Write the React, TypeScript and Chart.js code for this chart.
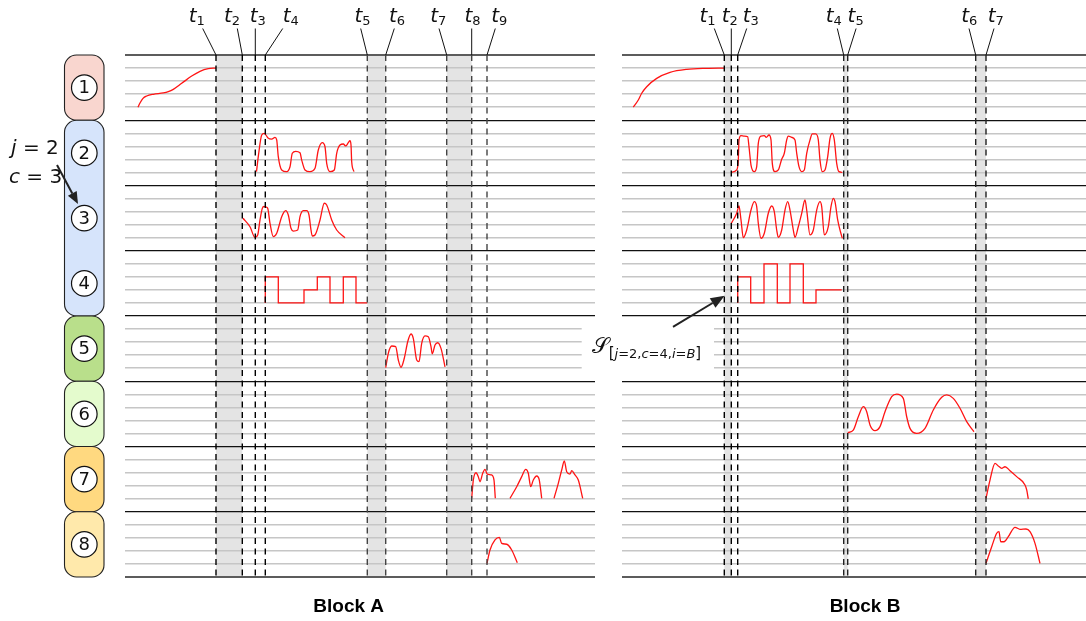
import React, { useEffect, useRef } from "react";
import { Chart, registerables } from "chart.js";

Chart.register(...registerables);

// ---------------- data ----------------
const LANE_NUMBERS = [1, 2, 3, 4, 5, 6, 7, 8];
const LANE_GROUPS = [[1, 1], [2, 4], [5, 5], [6, 6], [7, 7], [8, 8]];
const LANE_LEVELS = Array.from({ length: 41 }, (_, i) => i);

const MARKERS_A = [91, 117.3, 130.3, 140.3, 242.3, 260.7, 321.7, 346.7, 362];
const MARK_NAMES_A = ["1", "2", "3", "4", "5", "6", "7", "8", "9"];
const SHADE_A = [[0, 1], [4, 5], [6, 7]];

const MARKERS_B = [102.3, 109.3, 115.7, 221.7, 225.7, 353.7, 364];
const MARK_NAMES_B = ["1", "2", "3", "4", "5", "6", "7"];
const SHADE_B = [[0, 1], [3, 4], [5, 6]];

// Block A signals (time, level within lane)
const A1_T = [13, 15, 18, 21.7, 28.3, 38.3, 43.3, 48.3, 56.7, 66.7, 75, 83.3, 91];
const A1_V = [1.0, 1.32, 1.68, 1.86, 1.99, 2.09, 2.19, 2.37, 2.83, 3.39, 3.75, 3.95, 4.0];

const A2_T = [131.5, 133.5, 136.7, 139.3, 143, 146.7, 150, 151.7, 153.3, 156.7, 161.7, 165, 167.3, 170.7, 175, 176.7, 180, 185, 190, 193.3, 197.3, 200, 201.7, 205, 209.3, 211.7, 215, 218.3, 220.7, 223.3, 225, 226, 226.7, 229];
const A2_V = [1.06, 2.34, 3.87, 4.0, 3.64, 3.56, 3.69, 3.49, 2.21, 1.19, 1.06, 1.44, 2.47, 2.62, 2.51, 1.95, 1.19, 1.06, 1.32, 2.72, 3.28, 2.97, 1.7, 1.06, 1.19, 2.47, 3.1, 3.18, 3.03, 3.28, 3.43, 3.1, 1.82, 1.06];

const A3_T = [118, 125, 130, 132.7, 135, 137.3, 139, 141, 142.7, 145, 148.3, 151.7, 156.7, 160.7, 163.3, 166, 168.3, 172.7, 175, 178.3, 181.7, 184, 186, 187.3, 190, 195, 199.3, 201.7, 206.7, 211.7, 220];
const A3_V = [2.49, 1.84, 1.02, 1.21, 2.36, 3.25, 3.39, 3.35, 3.25, 2.1, 1.08, 1.34, 2.61, 3.07, 2.74, 1.72, 1.51, 1.59, 2.61, 3.07, 3.07, 2.74, 1.59, 1.13, 1.21, 2.36, 3.64, 3.51, 2.36, 1.59, 1.0];

const A4_T = [140.3, 140.3, 153.3, 179, 192.3, 205, 218.3, 231, 242.3];
const A4_V = [1, 3, 1, 2, 3, 1, 3, 1, 1];

const A5_T = [260.7, 263.3, 266.7, 270.7, 273.3, 276, 279.3, 282.7, 286, 288.3, 291.7, 294, 296.7, 300, 303.3, 306, 307.3, 310, 312.7, 316, 320];
const A5_V = [1.04, 2.14, 2.7, 2.65, 1.63, 1.07, 1.76, 3.03, 3.62, 3.29, 1.63, 1.5, 2.91, 3.47, 3.41, 2.65, 2.1, 2.78, 2.95, 2.52, 1.11];

const A7a_T = [346.7, 348.3, 351, 353.3, 355, 357.7, 360, 362.3, 366.7, 369, 370.3];
const A7a_V = [1.03, 2.43, 2.99, 2.69, 2.3, 2.95, 3.25, 2.89, 2.82, 2.43, 1.03];
const A7b_T = [385, 391.7, 396.7, 400.7, 403.3, 405.7, 408.3, 411.7, 414.3, 416.7];
const A7b_V = [1.03, 1.92, 2.69, 3.25, 2.95, 1.92, 2.43, 2.74, 2.43, 1.03];
const A7c_T = [429, 433.3, 436.7, 439.3, 441.7, 445, 446.7, 450, 453.3, 457.7];
const A7c_V = [1.03, 2.18, 3.2, 3.89, 3.07, 2.89, 3.15, 2.82, 2.43, 1.03];

const A8_T = [362, 365, 370, 374.3, 376.7, 381.7, 386.7, 392.3];
const A8_V = [1.05, 2.07, 2.84, 3.04, 2.58, 2.51, 2.07, 1.1];

// Block B signals
const B1_T = [11.3, 16.3, 19.7, 24.7, 34.7, 48, 64.7, 84.7, 102.3];
const B1_V = [1.0, 1.55, 2.07, 2.57, 3.21, 3.67, 3.9, 3.98, 4.0];

const B2_T = [109.3, 114.7, 116.3, 117, 119, 122.3, 125.7, 127, 129, 132.3, 134.7, 136.3, 139, 142.3, 144.3, 147, 149, 150.3, 153, 156.3, 159.7, 162.3, 164.7, 166.3, 169.7, 173, 174.7, 177, 179.7, 182.3, 184.7, 188, 190.3, 193.7, 196.3, 198, 200.3, 203, 205.7, 208, 210.3, 212.3, 214.7, 217, 220.3];
const B2_V = [1.01, 1.19, 1.95, 3.49, 3.82, 3.79, 3.74, 2.97, 1.57, 1.06, 1.44, 3.23, 3.79, 3.82, 3.69, 3.87, 3.49, 1.7, 1.06, 1.19, 2.01, 2.47, 3.49, 3.79, 3.69, 3.49, 2.47, 1.44, 1.06, 1.19, 2.47, 3.49, 3.95, 3.95, 3.49, 1.95, 1.06, 1.19, 2.21, 3.62, 4.0, 3.49, 1.7, 1.06, 1.01];

const B3_T = [109.3, 114.7, 117, 119, 121.3, 124.7, 129, 132.3, 134.7, 136.3, 139, 142.3, 146.3, 149.7, 152.3, 154.7, 156.3, 159.7, 163, 165.7, 168, 171.3, 173, 176.3, 179.7, 183, 184.7, 188, 191.3, 194.7, 198, 199.7, 202.3, 206.3, 209, 211.3, 213, 215.7, 218, 220.3];
const B3_V = [2.1, 2.87, 3.43, 2.36, 1.0, 1.59, 3.12, 3.76, 3.38, 2.1, 0.95, 1.34, 2.87, 3.43, 2.99, 1.59, 1.03, 1.59, 3.12, 3.76, 3.12, 1.59, 1.03, 1.84, 2.87, 3.89, 3.12, 1.21, 1.59, 3.12, 3.76, 3.38, 1.21, 1.84, 3.38, 4.02, 3.76, 2.36, 1.59, 0.95];

const B4_T = [115.7, 115.7, 128.7, 142, 155.3, 168, 181.3, 194, 219.7];
const B4_V = [1, 3, 1, 4, 1, 4, 1, 2, 2];

const B6_T = [225.7, 231.3, 236.3, 241.3, 244.7, 248, 253, 258, 263, 269.7, 274.7, 281.3, 284.7, 288, 294.7, 303, 311.3, 319.7, 324.7, 331.3, 338, 344.7, 352];
const B6_V = [1.06, 1.26, 2.28, 3.05, 2.67, 1.65, 1.21, 1.52, 2.67, 3.82, 4.02, 3.69, 2.28, 1.39, 1.01, 1.39, 2.8, 3.77, 3.95, 3.69, 2.93, 1.9, 1.13];

const B7_T = [364, 368, 373, 376.3, 379.7, 383, 388, 394.7, 403, 404.7, 406.3];
const B7_V = [1.03, 2.43, 3.71, 3.51, 3.33, 3.45, 3.15, 2.69, 2.05, 1.67, 0.98];

const B8_T = [364, 369.7, 374.7, 377, 378.7, 382, 386.3, 393, 398, 404, 408, 413, 418];
const B8_V = [1.05, 2.32, 3.35, 3.47, 2.7, 2.7, 3.09, 3.81, 3.65, 3.68, 3.47, 2.58, 1.05];

type Series = { lane: number; t: number[]; v: number[]; step?: boolean };

const SERIES_A: Series[] = [
  { lane: 1, t: A1_T, v: A1_V },
  { lane: 2, t: A2_T, v: A2_V },
  { lane: 3, t: A3_T, v: A3_V },
  { lane: 4, t: A4_T, v: A4_V, step: true },
  { lane: 5, t: A5_T, v: A5_V },
  { lane: 7, t: A7a_T, v: A7a_V },
  { lane: 7, t: A7b_T, v: A7b_V },
  { lane: 7, t: A7c_T, v: A7c_V },
  { lane: 8, t: A8_T, v: A8_V },
];

const SERIES_B: Series[] = [
  { lane: 1, t: B1_T, v: B1_V },
  { lane: 2, t: B2_T, v: B2_V },
  { lane: 3, t: B3_T, v: B3_V },
  { lane: 4, t: B4_T, v: B4_V, step: true },
  { lane: 6, t: B6_T, v: B6_V },
  { lane: 7, t: B7_T, v: B7_V },
  { lane: 8, t: B8_T, v: B8_V },
];

// ---------------- layout / style ----------------
const GROUP_COLORS = ["#f9d6cf", "#d6e4fb", "#b9df8b", "#e4fbcd", "#ffd980", "#ffe9ab"];
const LABEL_DX_A = [-19.3, -10.3, 2.5, 25.5, -4.8, 11.3, -8.4, 0.8, 12.2];
const LEADER_DX_A = [-13.3, -5, 0, 17.4, -6.6, 8.6, -7.7, 0, 8.3];
const DASH_COLORS_A = ["#000", "#000", "#000", "#000", "#444", "#444", "#444", "#444", "#444"];
const LABEL_DX_B = [-16.8, -1.5, 13, -9.9, 7.9, -6.5, 9.8];
const LEADER_DX_B = [-10, 0, 9, -6.4, 8.4, -6.7, 8];
const DASH_COLORS_B = ["#000", "#000", "#000", "#222", "#222", "#222", "#222"];

const MATH_IT = "italic 20px 'DejaVu Sans'";
const MATH_UP = "20px 'DejaVu Sans'";
const SUB_UP = "13px 'DejaVu Sans'";

function laneY(lane: number, v: number) {
  return (8 - lane) * 5 + v;
}

function toDataset(s: Series) {
  return {
    data: s.t.map((t, i) => ({ x: t, y: laneY(s.lane, s.v[i]) })),
    borderColor: "#ff1414",
    borderWidth: 1.3,
    pointRadius: 0,
    fill: false,
    tension: s.step ? 0 : 0.4,
    cubicInterpolationMode: s.step ? "default" : "monotone",
    stepped: s.step ? "before" : false,
  };
}

type Part = { s: string; font: string; dy?: number };

function drawParts(ctx: CanvasRenderingContext2D, parts: Part[], x: number, y: number, center: boolean) {
  let w = 0;
  for (const p of parts) {
    ctx.font = p.font;
    w += ctx.measureText(p.s).width;
  }
  let cx = center ? x - w / 2 : x;
  ctx.textAlign = "left";
  ctx.textBaseline = "alphabetic";
  for (const p of parts) {
    ctx.font = p.font;
    ctx.fillText(p.s, cx, y + (p.dy || 0));
    cx += ctx.measureText(p.s).width;
  }
}

function drawArrow(ctx: CanvasRenderingContext2D, x0: number, y0: number, x1: number, y1: number, head: number, half: number) {
  const a = Math.atan2(y1 - y0, x1 - x0);
  const bx = x1 - head * Math.cos(a);
  const by = y1 - head * Math.sin(a);
  ctx.beginPath();
  ctx.moveTo(x0, y0);
  ctx.lineTo(bx, by);
  ctx.stroke();
  ctx.beginPath();
  ctx.moveTo(x1, y1);
  ctx.lineTo(bx + half * Math.sin(a), by - half * Math.cos(a));
  ctx.lineTo(bx - half * Math.sin(a), by + half * Math.cos(a));
  ctx.closePath();
  ctx.fill();
}

function roundRect(ctx: CanvasRenderingContext2D, x: number, y: number, w: number, h: number, r: number) {
  ctx.beginPath();
  ctx.moveTo(x + r, y);
  ctx.lineTo(x + w - r, y);
  ctx.arcTo(x + w, y, x + w, y + r, r);
  ctx.lineTo(x + w, y + h - r);
  ctx.arcTo(x + w, y + h, x + w - r, y + h, r);
  ctx.lineTo(x + r, y + h);
  ctx.arcTo(x, y + h, x, y + h - r, r);
  ctx.lineTo(x, y + r);
  ctx.arcTo(x, y, x + r, y, r);
  ctx.closePath();
}

function overlayPlugin(which: "A" | "B") {
  const isA = which === "A";
  const markers = isA ? MARKERS_A : MARKERS_B;
  const names = isA ? MARK_NAMES_A : MARK_NAMES_B;
  const shades = isA ? SHADE_A : SHADE_B;
  const labelDx = isA ? LABEL_DX_A : LABEL_DX_B;
  const leaderDx = isA ? LEADER_DX_A : LEADER_DX_B;
  const dashColors = isA ? DASH_COLORS_A : DASH_COLORS_B;
  return {
    id: "overlay" + which,
    beforeDraw(chart: any) {
      const { ctx, chartArea, scales } = chart;
      const xs = scales.x;
      ctx.save();
      ctx.fillStyle = "#e4e4e4";
      for (const [i, j] of shades) {
        const x0 = xs.getPixelForValue(markers[i]);
        const x1 = xs.getPixelForValue(markers[j]);
        ctx.fillRect(x0, chartArea.top, x1 - x0, chartArea.bottom - chartArea.top);
      }
      ctx.restore();
    },
    afterDraw(chart: any) {
      const { ctx, chartArea, scales } = chart;
      const xs = scales.x;
      const ys = scales.y;
      ctx.save();
      // dashed markers + leaders + labels
      markers.forEach((m: number, i: number) => {
        const px = xs.getPixelForValue(m);
        ctx.strokeStyle = dashColors[i];
        ctx.lineWidth = 1.4;
        ctx.setLineDash([6, 4.5]);
        ctx.beginPath();
        ctx.moveTo(px, chartArea.top);
        ctx.lineTo(px, chartArea.bottom);
        ctx.stroke();
        ctx.setLineDash([]);
        ctx.strokeStyle = "#111";
        ctx.lineWidth = 1;
        ctx.beginPath();
        ctx.moveTo(px + leaderDx[i], 28.5);
        ctx.lineTo(px, chartArea.top);
        ctx.stroke();
        ctx.fillStyle = "#111";
        drawParts(
          ctx,
          [
            { s: "t", font: MATH_IT },
            { s: names[i], font: SUB_UP, dy: 3.5 },
          ],
          px + labelDx[i],
          21.5,
          true
        );
      });

      if (isA) {
        // lane ladder
        LANE_GROUPS.forEach(([a, b], gi) => {
          const top = ys.getPixelForValue(laneY(a, 5));
          const bot = ys.getPixelForValue(laneY(b, 0));
          roundRect(ctx, 64.5, top, 39.5, bot - top, 12);
          ctx.fillStyle = GROUP_COLORS[gi];
          ctx.fill();
          ctx.strokeStyle = "#222";
          ctx.lineWidth = 1.1;
          ctx.stroke();
        });
        LANE_NUMBERS.forEach((n) => {
          const cy = ys.getPixelForValue(laneY(n, 2.5));
          ctx.beginPath();
          ctx.arc(84.3, cy, 12.8, 0, Math.PI * 2);
          ctx.fillStyle = "#fff";
          ctx.fill();
          ctx.strokeStyle = "#111";
          ctx.lineWidth = 1.2;
          ctx.stroke();
          ctx.fillStyle = "#111";
          ctx.font = "18px 'DejaVu Sans'";
          ctx.textAlign = "center";
          ctx.textBaseline = "middle";
          ctx.fillText(String(n), 84.3, cy + 1);
        });
        // j / c annotation
        ctx.fillStyle = "#111";
        drawParts(ctx, [{ s: "j", font: MATH_IT }, { s: " = 2", font: MATH_UP }], 11, 154, false);
        drawParts(ctx, [{ s: "c", font: MATH_IT }, { s: " = 3", font: MATH_UP }], 9, 183, false);
        ctx.strokeStyle = "#222";
        ctx.fillStyle = "#222";
        ctx.lineWidth = 2;
        drawArrow(ctx, 57, 165, 78, 204, 12, 5);
        // title
        ctx.fillStyle = "#000";
        ctx.font = "bold 19px 'Liberation Sans'";
        ctx.textAlign = "center";
        ctx.textBaseline = "alphabetic";
        ctx.fillText("Block A", 348.7, 612);
      } else {
        // S annotation with white box
        const bx0 = xs.getPixelForValue(-40.3);
        const bx1 = xs.getPixelForValue(92);
        const by0 = ys.getPixelForValue(19.6);
        const by1 = ys.getPixelForValue(15.3);
        ctx.fillStyle = "#fff";
        ctx.fillRect(bx0, by0, bx1 - bx0, by1 - by0);
        ctx.fillStyle = "#111";
        const sx = xs.getPixelForValue(-30.3);
        const sy = ys.getPixelForValue(17.2);
        const IT = "italic 13px 'DejaVu Sans'";
        drawParts(
          ctx,
          [
            { s: "\u{1D4AE}", font: "22px 'DejaVu Sans', 'DejaVu Serif', 'Noto Sans', serif" },
            { s: "[", font: "15px 'DejaVu Sans'", dy: 5 },
            { s: "j", font: IT, dy: 5 },
            { s: "=2,", font: SUB_UP, dy: 5 },
            { s: "c", font: IT, dy: 5 },
            { s: "=4,", font: SUB_UP, dy: 5 },
            { s: "i", font: IT, dy: 5 },
            { s: "=", font: SUB_UP, dy: 5 },
            { s: "B", font: IT, dy: 5 },
            { s: "]", font: "15px 'DejaVu Sans'", dy: 5 },
          ],
          sx,
          sy,
          false
        );
        ctx.strokeStyle = "#222";
        ctx.fillStyle = "#222";
        ctx.lineWidth = 2;
        drawArrow(
          ctx,
          xs.getPixelForValue(51),
          ys.getPixelForValue(19.16),
          xs.getPixelForValue(102.6),
          ys.getPixelForValue(21.55),
          14,
          5.5
        );
        ctx.fillStyle = "#000";
        ctx.font = "bold 19px 'Liberation Sans'";
        ctx.textAlign = "center";
        ctx.textBaseline = "alphabetic";
        ctx.fillText("Block B", 305, 612);
      }
      ctx.restore();
    },
  };
}

function gridColor(c: any) {
  const v = c.tick ? c.tick.value : 1;
  if (v === 40 || v === 0) return "#5c5c5c";
  if (v % 5 === 0) return "#111";
  return "#c6c6c6";
}
function gridWidth(c: any) {
  const v = c.tick ? c.tick.value : 1;
  if (v === 40 || v === 0) return 2;
  if (v % 5 === 0) return 1.2;
  return 1.5;
}

function buildConfig(which: "A" | "B"): any {
  const isA = which === "A";
  const series = isA ? SERIES_A : SERIES_B;
  return {
    type: "line",
    data: { datasets: series.map(toDataset) },
    options: {
      animation: false,
      responsive: false,
      devicePixelRatio: 1,
      events: [],
      layout: {
        padding: isA
          ? { left: 125, right: 5, top: 55, bottom: 44 }
          : { left: 62, right: 0, top: 55, bottom: 44 },
      },
      plugins: {
        legend: { display: false },
        tooltip: { enabled: false },
        title: { display: false },
      },
      scales: {
        x: { type: "linear", min: 0, max: isA ? 470 : 464, display: false },
        y: {
          type: "linear",
          min: 0,
          max: 40,
          display: true,
          afterFit: (s: any) => {
            s.width = 0;
          },
          afterBuildTicks: (s: any) => {
            s.ticks = LANE_LEVELS.map((v) => ({ value: v }));
          },
          ticks: { display: false },
          border: { display: false },
          grid: { drawTicks: false, color: gridColor, lineWidth: gridWidth },
        },
      },
    },
    plugins: [overlayPlugin(which)],
  };
}

function BlockChart({ which }: { which: "A" | "B" }) {
  const ref = useRef<HTMLCanvasElement | null>(null);
  const isA = which === "A";
  const left = isA ? 0 : 560;
  const width = isA ? 600 : 526;
  useEffect(() => {
    const cv = ref.current;
    if (!cv) return;
    const chart = new Chart(cv, buildConfig(which));
    return () => chart.destroy();
  }, [which]);
  return (
    <canvas
      ref={ref}
      width={width}
      height={621}
      style={{ position: "absolute", left, top: 0, width, height: 621, display: "block" }}
    />
  );
}

export default function App() {
  return (
    <div
      style={{
        position: "absolute",
        left: 0,
        top: 0,
        width: 1086,
        height: 621,
        background: "#fff",
        overflow: "hidden",
      }}
    >
      <BlockChart which="A" />
      <BlockChart which="B" />
    </div>
  );
}
